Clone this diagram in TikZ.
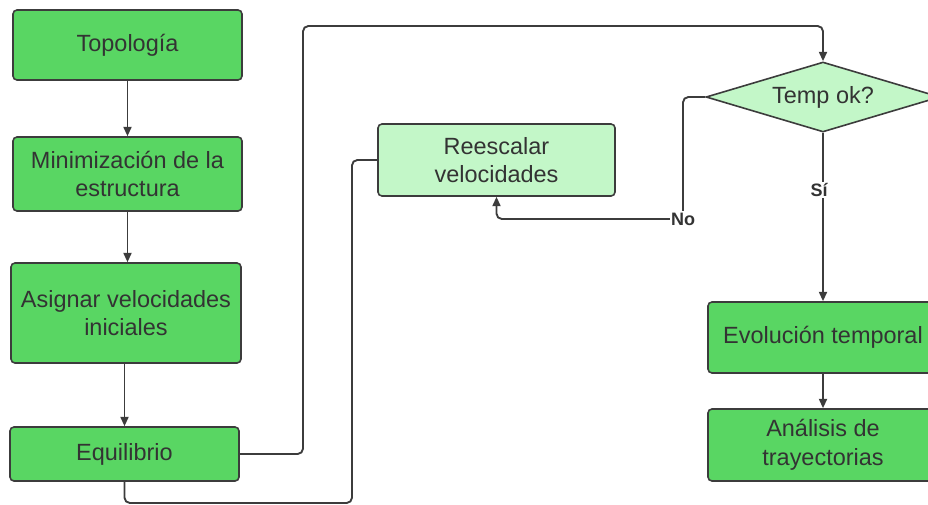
\documentclass[tikz,border=0pt]{standalone}
\usepackage{fontspec}
\setmainfont{Liberation Sans}
\usetikzlibrary{arrows.meta, positioning, shapes.geometric}

\definecolor{boxgreen}{RGB}{89,214,99}
\definecolor{palegreen}{RGB}{195,247,200}
\definecolor{linegray}{RGB}{60,60,60}
\definecolor{textgray}{RGB}{51,51,51}

\begin{document}
\begin{tikzpicture}[x=0.75pt, y=-0.75pt,
  stepbox/.style={draw=linegray, line width=1.2pt, rounded corners=3pt, fill=boxgreen,
    text=textgray, align=center, inner sep=0pt,
    font=\fontsize{17.6}{21.5}\selectfont},
  lightbox/.style={stepbox, fill=palegreen},
  decision/.style={draw=linegray, line width=1.2pt, diamond, fill=palegreen, text=textgray,
    inner sep=0pt, shape aspect=3.3, font=\fontsize{17.6}{22}\selectfont},
  link/.style={draw=linegray, line width=1.4pt, rounded corners=4pt},
  arr/.style={link, -{Triangle[length=7pt, width=6pt]}},
  tag/.style={fill=white, text=textgray, inner sep=1pt, font=\fontsize{13.5}{15}\selectfont\bfseries}]
  \clip (0,0) rectangle (928,504);

  % Left column
  \node[stepbox, minimum width=171.75pt, minimum height=52.5pt] (topo) at (127.5,45) {Topología};
  \node[stepbox, minimum width=171.75pt, minimum height=55.5pt] (mini) at (127.5,174) {Minimización de la\\estructura};
  \node[stepbox, minimum width=172.5pt, minimum height=75pt] (asig) at (126,313) {Asignar velocidades\\iniciales};
  \node[stepbox, minimum width=171.75pt, minimum height=40.5pt] (equi) at (124.5,454) {Equilibrio};
  \draw[arr] (topo.south) -- (topo.south |- mini.north);
  \draw[arr] (mini.south) -- (mini.south |- asig.north);
  \draw[arr] (equi.north |- asig.south) -- (equi.north);

  % Rescaling
  \node[lightbox, minimum width=177.75pt, minimum height=54pt] (rees) at (496.5,160) {Reescalar\\velocidades};

  % Right column
  \node[decision, minimum width=175.5pt, minimum height=52.5pt] (temp) at (823,97) {Temp ok?};
  \node[stepbox, minimum width=172.5pt, minimum height=53.25pt] (evol) at (823,337.5) {Evolución temporal};
  \node[stepbox, minimum width=172.5pt, minimum height=54pt] (anal) at (823,445) {Análisis de\\trayectorias};
  \draw[arr] (evol) -- (anal);

  % Loops
  \draw[arr] (equi.east) -- (303,454) -- (303,26) -- (temp.north |- 0,26) -- (temp.north);
  \draw[link] (equi.south) -- (124.5,503) -- (352,503) -- (352,160) -- (rees.west);
  \draw[arr] (temp.west) -- (683,97) -- (683,219) -- (rees.south |- 0,219) -- (rees.south);
  \draw[arr] (temp.south) -- (evol.north);
  \node[tag] (no) at (683,219) {No};
  \node[tag] (si) at (819,190) {Sí};
\end{tikzpicture}
\end{document}
